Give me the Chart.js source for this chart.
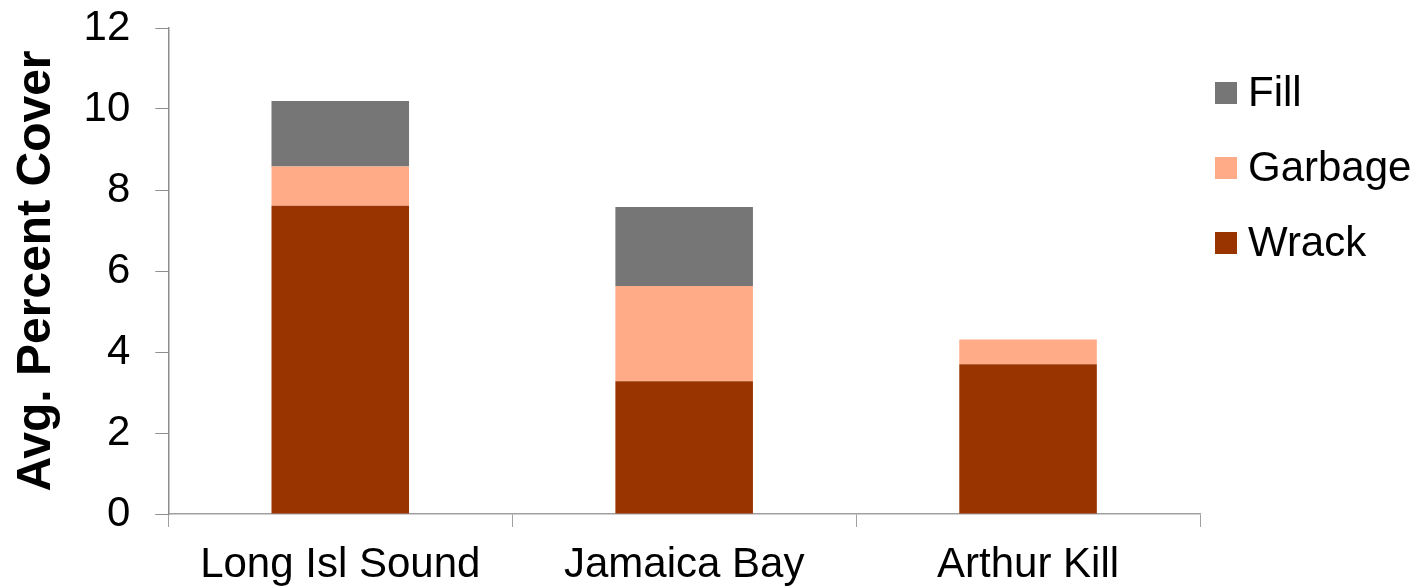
<!DOCTYPE html>
<html>
<head>
<meta charset="utf-8">
<script src="https://cdn.jsdelivr.net/npm/chart.js"></script>
<style>
  html, body { margin: 0; padding: 0; background: #fff; }
  #wrap { width: 1422px; height: 587px; }
</style>
</head>
<body>
<div id="wrap"><canvas id="myChart" width="1422" height="587"></canvas></div>
<script>
// data
const sites = ["Long Isl Sound", "Jamaica Bay", "Arthur Kill"]
const wrack = [7.61, 3.28, 3.70]
const garbage = [0.97, 2.35, 0.61]
const fill = [1.62, 1.95, 0]
const yTicks = [0, 2, 4, 6, 8, 10, 12]

const FONT = "'Liberation Sans', Arial, sans-serif"

// legend drawn at the right, top item first (Fill, Garbage, Wrack)
const sideLegend = {
  id: "sideLegend",
  afterDraw(chart) {
    const c = chart.ctx
    const sets = chart.data.datasets.slice().reverse()
    c.save()
    c.font = "42px " + FONT
    c.textBaseline = "middle"
    sets.forEach((ds, i) => {
      const y = 93 + i * 75
      c.fillStyle = ds.backgroundColor
      c.fillRect(chart.chartArea.right + 15, y - 11, 22, 22)
      c.fillStyle = "#000"
      c.fillText(ds.label, chart.chartArea.right + 48, y + 1)
    })
    c.restore()
  },
}

const ctx = document.getElementById("myChart").getContext("2d")
new Chart(ctx, {
  type: "bar",
  data: {
    labels: sites,
    datasets: [
      { label: "Wrack", data: wrack, backgroundColor: "#993300" },
      { label: "Garbage", data: garbage, backgroundColor: "#ffab88" },
      { label: "Fill", data: fill, backgroundColor: "#767677" },
    ],
  },
  options: {
    responsive: false,
    animation: false,
    layout: { padding: { left: 8, right: 222, top: 0, bottom: 0 } },
    datasets: { bar: { categoryPercentage: 1, barPercentage: 0.4 } },
    plugins: { legend: { display: false }, tooltip: { enabled: false } },
    scales: {
      x: {
        stacked: true,
        afterFit: (axis) => { axis.height = 73 },
        border: { color: "#a0a0a0", width: 1.5 },
        grid: { offset: true, drawOnChartArea: false, tickLength: 13, color: "#a0a0a0" },
        ticks: { color: "#000", padding: 13, font: { family: FONT, size: 42 } },
      },
      y: {
        stacked: true,
        min: 0,
        max: 12,
        afterBuildTicks: (axis) => { axis.ticks = yTicks.map((v) => ({ value: v })) },
        afterFit: (axis) => { axis.paddingTop = 28; axis.paddingBottom = 0 },
        border: { color: "#8e8e8e", width: 1.5 },
        grid: { drawOnChartArea: false, tickLength: 13, color: "#8e8e8e" },
        ticks: { color: "#000", padding: 25, font: { family: FONT, size: 42 } },
        title: {
          display: true,
          text: "Avg. Percent Cover",
          color: "#000",
          padding: { top: 0, bottom: -7 },
          font: { family: FONT, size: 48, weight: "bold" },
        },
      },
    },
  },
  plugins: [sideLegend],
})
</script>
</body>
</html>
